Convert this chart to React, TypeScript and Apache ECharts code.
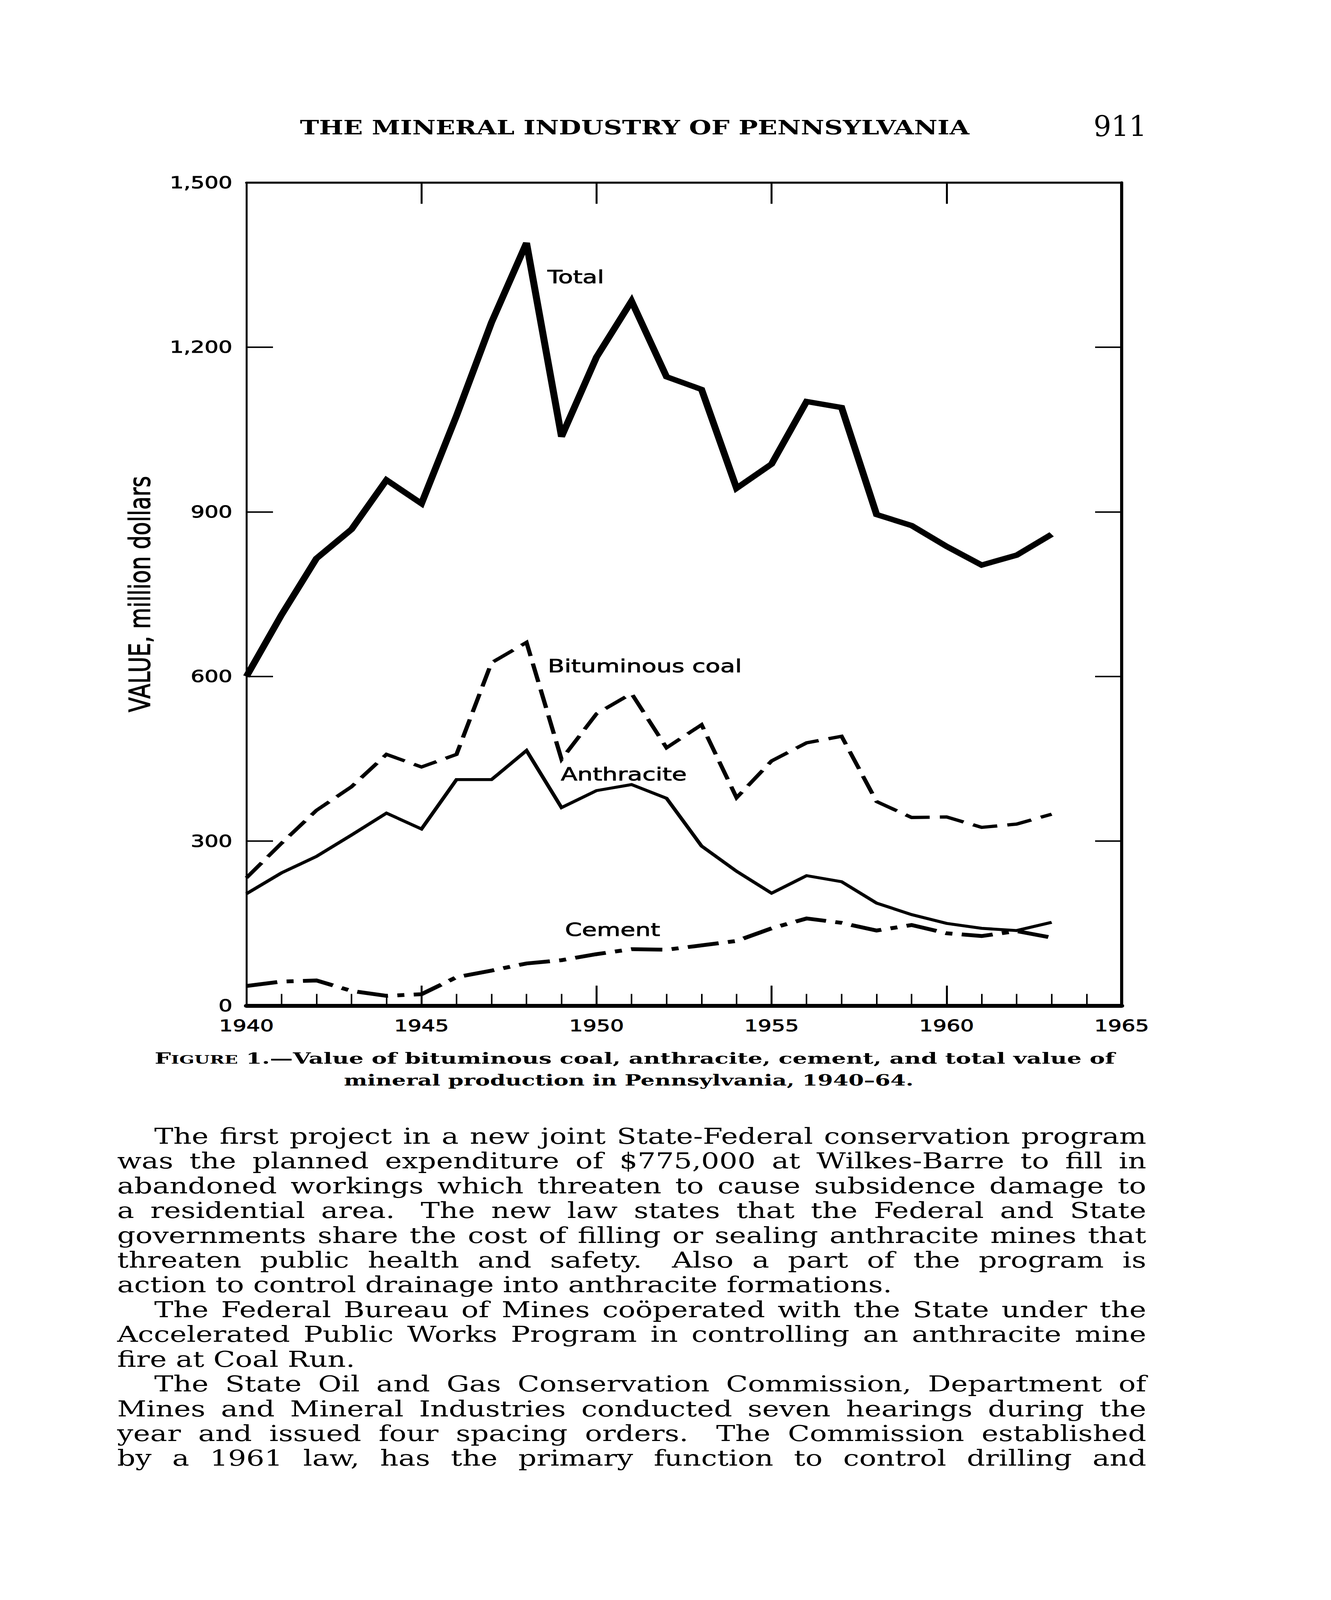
import React, { useEffect, useRef } from "react";
import * as echarts from "echarts";

// ---------------- data ----------------
const years = [
  1940, 1941, 1942, 1943, 1944, 1945, 1946, 1947, 1948, 1949, 1950, 1951,
  1952, 1953, 1954, 1955, 1956, 1957, 1958, 1959, 1960, 1961, 1962, 1963,
];
const totalValue = [
  600, 712, 815, 868, 958, 915, 1075, 1245, 1390, 1037, 1182, 1284,
  1146, 1123, 943, 987, 1101, 1090, 895, 875, 837, 803, 821, 859,
];
const bituminousValue = [
  233, 296, 356, 399, 458, 435, 458, 625, 662, 449, 532, 569,
  470, 512, 379, 446, 479, 491, 372, 343, 344, 325, 331, 349,
];
const anthraciteValue = [
  204, 242, 272, 311, 351, 322, 412, 412, 465, 361, 392, 403,
  378, 291, 245, 205, 237, 226, 187, 166, 150, 141, 137, 152,
];
const cementValue = [
  36, 44, 46, 27, 18, 21, 52, 64, 77, 83, 94, 103,
  102, 110, 118, 141, 159, 151, 137, 147, 132, 127, 136, 124,
];
const yTickLabels = ["0", "300", "600", "900", "1,200", "1,500"];
const yAxisTitle = "VALUE, million dollars";
const seriesNames = ["Total", "Bituminous coal", "Anthracite", "Cement"];
// label anchors in data space [year, value] (left / middle of text)
const labelAnchors = [
  [1948.6, 1328],
  [1948.61, 619],
  [1948.98, 422],
  [1949.1, 139],
];
const headerTitle = "THE MINERAL INDUSTRY OF PENNSYLVANIA";
const pageNumber = "911";
const captionFirstLetter = "F";
const captionSmallCaps = "IGURE";
const captionLine1Rest = " 1.\u2014Value of bituminous coal, anthracite, cement, and total value of";
const captionLine2 = "mineral production in Pennsylvania, 1940\u201364.";
const paragraphs: string[][] = [
  [
    "The first project in a new joint State-Federal conservation program",
    "was the planned expenditure of $775,000 at Wilkes-Barre to fill in",
    "abandoned workings which threaten to cause subsidence damage to",
    "a residential area.  The new law states that the Federal and State",
    "governments share the cost of filling or sealing anthracite mines that",
    "threaten public health and safety.  Also a part of the program is",
    "action to control drainage into anthracite formations.",
  ],
  [
    "The Federal Bureau of Mines co\u00f6perated with the State under the",
    "Accelerated Public Works Program in controlling an anthracite mine",
    "fire at Coal Run.",
  ],
  [
    "The State Oil and Gas Conservation Commission, Department of",
    "Mines and Mineral Industries conducted seven hearings during the",
    "year and issued four spacing orders.  The Commission established",
    "by a 1961 law, has the primary function to control drilling and",
  ],
];
// the last paragraph runs on to the next page, so its last line is justified
const paragraphContinues = [false, false, true];

const W = 3408;
const H = 5417;
const SANS = "DejaVu Sans";
const SERIF = "DejaVu Serif";

function buildPageText(): any[] {
  const canvas = document.createElement("canvas");
  const ctx = canvas.getContext("2d") as CanvasRenderingContext2D;
  const measure = (t: string, size: number, weight: string, family: string) => {
    ctx.font = `${weight} ${size}px "${family}"`;
    return ctx.measureText(t).width;
  };
  const C = 0.346;
  const els: any[] = [];
  const addText = (
    t: string,
    x: number,
    baseline: number,
    size: number,
    weight: string,
    family: string,
    sx: number
  ) => {
    els.push({
      type: "text",
      x,
      y: baseline - C * size,
      scaleX: sx,
      silent: true,
      style: {
        text: t,
        fontSize: size,
        fontWeight: weight,
        fontFamily: family,
        fill: "#000",
        align: "left",
        verticalAlign: "middle",
      },
    });
  };

  // header
  {
    const size = 66;
    const w = measure(headerTitle, size, "bold", SERIF);
    addText(headerTitle, 768, 455, size, "bold", SERIF, (2483 - 768) / w);
    const size2 = 96;
    const w2 = measure(pageNumber, size2, "normal", SERIF);
    addText(pageNumber, 2800, 462, size2, "normal", SERIF, (2936 - 2800) / w2);
  }

  // caption
  {
    const big = 52;
    const small = 40;
    const segs = [
      { t: captionFirstLetter, s: big },
      { t: captionSmallCaps, s: small },
      { t: captionLine1Rest, s: big },
    ];
    const widths = segs.map((g) => measure(g.t, g.s, "bold", SERIF));
    const total = widths.reduce((a, b) => a + b, 0);
    const sc = (2854 - 396) / total;
    let x = 396;
    segs.forEach((g, i) => {
      addText(g.t, x, 3601, g.s, "bold", SERIF, sc);
      x += widths[i] * sc;
    });
    const w2 = measure(captionLine2, big, "bold", SERIF);
    const target = 2340 - 881;
    addText(captionLine2, 1610 - target / 2, 3675, big, "bold", SERIF, target / w2);
  }

  // body text
  {
    const size = 74;
    const left = 300;
    const indentLeft = 395;
    const right = 2935;
    const lineGap = 83.9;
    const firstBaseline = 3872;
    const spaceW = measure(" ", size, "normal", SERIF);
    const w6 = measure(paragraphs[0][6], size, "normal", SERIF);
    const w9 = measure(paragraphs[1][2], size, "normal", SERIF);
    const s0 = ((2306 - left) / w6 + (902 - left) / w9) / 2;
    let li = 0;
    paragraphs.forEach((para, pi) => {
      para.forEach((line, k) => {
        const baseline = firstBaseline + li * lineGap;
        const startX = k === 0 ? indentLeft : left;
        const parts = line.split(" ");
        const words: string[] = [];
        const weights: number[] = [];
        let pending = 0;
        parts.forEach((p) => {
          if (p === "") {
            pending += 0.6;
          } else {
            if (words.length) weights.push(1 + pending);
            pending = 0;
            words.push(p);
          }
        });
        const ww = words.map((w) => measure(w, size, "normal", SERIF) * s0);
        const sumW = ww.reduce((a, b) => a + b, 0);
        const sumG = weights.reduce((a, b) => a + b, 0);
        const isLast = k === para.length - 1 && !paragraphContinues[pi];
        const unit = isLast || sumG === 0 ? spaceW * s0 : (right - startX - sumW) / sumG;
        let x = startX;
        words.forEach((w, i) => {
          addText(w, x, baseline, size, "normal", SERIF, s0);
          x += ww[i] + (i < weights.length ? weights[i] * unit : 0);
        });
        li++;
      });
    });
  }
  return els;
}

export default function App() {
  const ref = useRef<HTMLDivElement>(null);
  // the browser may clamp the viewport height; fit the whole page into it
  const vh = typeof window !== "undefined" && window.innerHeight > 0 ? window.innerHeight : H;
  const sy = Math.min(1, vh / H);

  useEffect(() => {
    const el = ref.current;
    if (!el) return;
    document.body.style.margin = "0";
    document.body.style.overflow = "hidden";
    const chart = echarts.init(el, undefined, { renderer: "svg", width: W, height: H });

    const mk = (vals: number[]) => years.map((y, i) => [y, vals[i]]);
    const axisText = {
      fontFamily: SANS,
      color: "#000",
      textBorderColor: "#000",
      textBorderWidth: 1.5,
    };

    const option: any = {
      animation: false,
      backgroundColor: "#ffffff",
      grid: { left: 631, top: 618, width: 2241, height: 2787, containLabel: false },
      xAxis: [
        {
          type: "value",
          position: "bottom",
          min: 1940,
          max: 1965,
          interval: 5,
          axisLine: { show: true, onZero: false, lineStyle: { color: "#000", width: 13 } },
          axisTick: { show: true, inside: true, length: 68, lineStyle: { color: "#000", width: 5 } },
          minorTick: { show: true, splitNumber: 5, length: 40, lineStyle: { color: "#000", width: 4 } },
          axisLabel: { show: true, margin: 40, fontSize: 55, ...axisText, formatter: (v: number) => String(v) },
          splitLine: { show: false },
          minorSplitLine: { show: false },
        },
        {
          type: "value",
          position: "top",
          min: 1940,
          max: 1965,
          interval: 5,
          axisLine: { show: true, onZero: false, lineStyle: { color: "#000", width: 7 } },
          axisTick: { show: true, inside: true, length: 72, lineStyle: { color: "#000", width: 5 } },
          axisLabel: { show: false },
          splitLine: { show: false },
        },
      ],
      yAxis: [
        {
          type: "value",
          position: "left",
          min: 0,
          max: 1500,
          interval: 300,
          axisLine: { show: true, onZero: false, lineStyle: { color: "#000", width: 5 } },
          axisTick: { show: true, inside: true, length: 68, lineStyle: { color: "#000", width: 5 } },
          axisLabel: {
            show: true,
            margin: 36,
            fontSize: 56,
            ...axisText,
            formatter: (v: number) => yTickLabels[Math.round(v / 300)] ?? String(v),
          },
          splitLine: { show: false },
          name: yAxisTitle,
          nameLocation: "middle",
          nameGap: 236,
          nameRotate: 90,
          nameTextStyle: { fontSize: 74, ...axisText },
        },
        {
          type: "value",
          position: "right",
          min: 0,
          max: 1500,
          interval: 300,
          axisLine: { show: true, onZero: false, lineStyle: { color: "#000", width: 8 } },
          axisTick: { show: true, inside: true, length: 68, lineStyle: { color: "#000", width: 5 } },
          axisLabel: { show: false },
          splitLine: { show: false },
        },
      ],
      series: [
        {
          name: seriesNames[0],
          type: "line",
          data: mk(totalValue),
          symbol: "none",
          lineStyle: { color: "#000", width: 18, type: "solid", join: "miter", cap: "butt" },
          z: 5,
        },
        {
          name: seriesNames[1],
          type: "line",
          data: mk(bituminousValue),
          symbol: "none",
          lineStyle: { color: "#000", width: 11, type: [64, 26], join: "miter", cap: "butt" },
          z: 4,
        },
        {
          name: seriesNames[2],
          type: "line",
          data: mk(anthraciteValue),
          symbol: "none",
          lineStyle: { color: "#000", width: 10, type: "solid", join: "miter", cap: "butt" },
          z: 4,
        },
        {
          name: seriesNames[3],
          type: "line",
          data: mk(cementValue),
          symbol: "none",
          lineStyle: { color: "#000", width: 13, type: [80, 24, 18, 24], join: "miter", cap: "butt" },
          z: 4,
        },
      ],
    };
    chart.setOption(option);

    const labelEls = seriesNames.map((name, i) => {
      const p = chart.convertToPixel({ seriesIndex: 0 }, labelAnchors[i]) as number[];
      return {
        type: "text",
        x: p[0],
        y: p[1],
        silent: true,
        style: {
          text: name,
          fontSize: 62,
          fontFamily: SANS,
          fill: "#000",
          stroke: "#000",
          lineWidth: 1.5,
          align: "left",
          verticalAlign: "middle",
        },
      };
    });

    chart.setOption({ graphic: { elements: [...labelEls, ...buildPageText()] } });

    return () => {
      chart.dispose();
    };
  }, []);

  return (
    <div
      style={{
        position: "absolute",
        left: 0,
        top: 0,
        width: W,
        height: Math.floor(H * sy),
        overflow: "hidden",
        background: "#fff",
      }}
    >
      <div
        ref={ref}
        style={{
          position: "absolute",
          left: 0,
          top: 0,
          width: W,
          height: H,
          background: "#fff",
          transform: `scale(1, ${sy})`,
          transformOrigin: "0 0",
        }}
      />
    </div>
  );
}
